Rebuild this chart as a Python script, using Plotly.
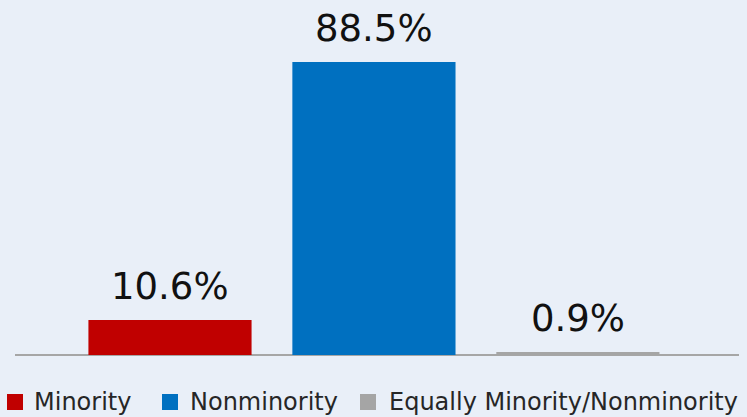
import plotly.graph_objects as go

categories = ["Minority", "Nonminority", "Equally Minority/Nonminority"]
values = [10.6, 88.5, 0.9]
labels = ["10.6%", "88.5%", "0.9%"]
colors = ["#C00000", "#0070C0", "#A5A5A5"]

W, H = 747, 417
ML, MR, MT, MB = 15, 8, 24, 62
PW, PH = W - ML - MR, H - MT - MB

def px_x(p):
    return (p - ML) / PW

def px_y(p):
    return (H - MB - p) / PH

fig = go.Figure()
for i, (c, v, col) in enumerate(zip(categories, values, colors)):
    fig.add_trace(go.Bar(x=[i], y=[v], name=c, marker=dict(color=col, line=dict(width=0)),
                         width=0.8, showlegend=False, hoverinfo="skip"))

annotations = []
for i, (v, t) in enumerate(zip(values, labels)):
    annotations.append(dict(x=i, y=v, xref="x", yref="y", text=t, showarrow=False,
                            yanchor="bottom", yshift=10,
                            font=dict(size=37, color="#111111", family="DejaVu Sans")))

# manual legend (squares + text)
sq_left = [7, 162, 360]
txt_left = [32, 188, 387]
shapes = []
for c, col, sl, tl in zip(categories, colors, sq_left, txt_left):
    shapes.append(dict(type="rect", xref="paper", yref="paper",
                       x0=px_x(sl), x1=px_x(sl + 16), y0=px_y(410), y1=px_y(394),
                       fillcolor=col, line=dict(width=0)))
    annotations.append(dict(x=px_x(tl), y=px_y(402), xref="paper", yref="paper",
                            text=c, showarrow=False, xanchor="left", yanchor="middle",
                            font=dict(size=24, color="#262626", family="DejaVu Sans")))

fig.update_layout(
    width=W, height=H,
    margin=dict(l=ML, r=MR, t=MT, b=MB),
    paper_bgcolor="#E9EFF8", plot_bgcolor="#E9EFF8",
    showlegend=False,
    annotations=annotations, shapes=shapes,
    font=dict(family="DejaVu Sans"),
)
fig.update_xaxes(range=[-0.76, 2.79], showticklabels=False, showgrid=False,
                 zeroline=False, showline=False)
fig.update_yaxes(range=[0, 100], showticklabels=False, showgrid=False,
                 zeroline=True, zerolinecolor="#A6A6A6", zerolinewidth=2)

fig.write_html("out.html", config={"displayModeBar": False},
               post_script="document.body.style.margin='0';document.body.style.background='#E9EFF8';")
